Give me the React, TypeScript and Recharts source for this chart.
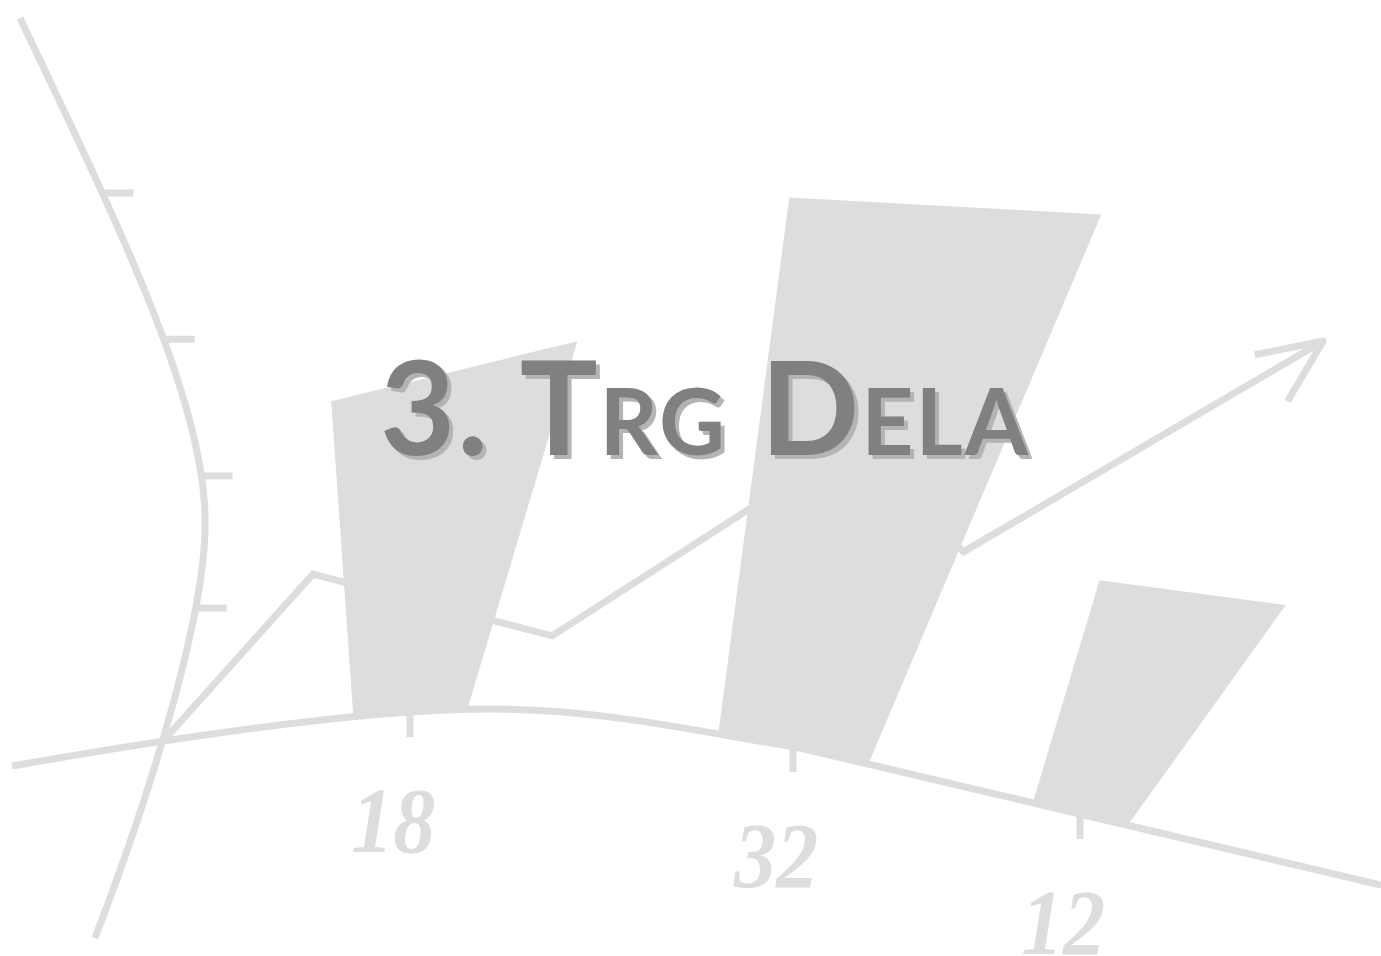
import React from 'react'
import { BarChart, LineChart, Bar, Line, XAxis, YAxis, LabelList } from 'recharts'

const W = 1381
const H = 956
// plot area: x 165..1381, y 42..739 (axes below take 1px each)
const MARGIN = { top: 42, right: 0, bottom: 216, left: 164 }
const AXIS_PX = 1
const PLOT_LEFT = MARGIN.left + AXIS_PX
const PLOT_W = W - PLOT_LEFT - MARGIN.right
const PLOT_BOTTOM = H - MARGIN.bottom - AXIS_PX

// bars
const categories = ['I', 'II', 'III']
const values = [18, 32, 12]
const valueTicks = [10, 20, 30, 40]

// trend arrow, in its own units (x 0..12, y 0..20)
const trendX = [0, 1.46, 3.82, 6.76, 7.88, 11.43]
const trendY = [0, 4.73, 2.96, 8.46, 5.37, 11.42]

const barData = categories.map((name, i) => ({ name, value: values[i] }))
const trendData = trendX.map((x, i) => ({ x, y: trendY[i] }))

const GREY = '#dddddd'
const STROKE = 7

type Pt = [number, number]
type Seg = [Pt, Pt, Pt]

// hand drawn axes
const BOTTOM_START: Pt = [12, 766]
const BOTTOM_SEGS: Seg[] = [
    [[200, 733], [380, 709], [490, 709]],
    [[600, 709], [690, 730], [800, 748]],
    [[994, 794], [1187, 839], [1381, 885]],
]
const LEFT_START: Pt = [20, 18]
const LEFT_SEGS: Seg[] = [
    [[115, 218], [205, 400], [205, 520]],
    [[207, 610], [152, 790], [95, 938]],
]

function cubic(a: Pt, b: Pt, c: Pt, d: Pt, t: number): Pt {
    const u = 1 - t
    const k0 = u * u * u, k1 = 3 * u * u * t, k2 = 3 * u * t * t, k3 = t * t * t
    return [
        k0 * a[0] + k1 * b[0] + k2 * c[0] + k3 * d[0],
        k0 * a[1] + k1 * b[1] + k2 * c[1] + k3 * d[1],
    ]
}

function curvePath(start: Pt, segs: Seg[]) {
    return `M${start}` + segs.map((s) => ` C${s[0]} ${s[1]} ${s[2]}`).join('')
}

function sampleCurve(start: Pt, segs: Seg[], steps = 64): Pt[] {
    const out: Pt[] = [start]
    let p0 = start
    for (const [c1, c2, p1] of segs) {
        for (let i = 1; i <= steps; i++) out.push(cubic(p0, c1, c2, p1, i / steps))
        p0 = p1
    }
    return out
}

function along(samples: Pt[], axis: 0 | 1, v: number) {
    const o = 1 - axis
    for (let i = 1; i < samples.length; i++) {
        const a = samples[i - 1], b = samples[i]
        if ((a[axis] - v) * (b[axis] - v) <= 0) {
            const f = b[axis] === a[axis] ? 0 : (v - a[axis]) / (b[axis] - a[axis])
            return a[o] + f * (b[o] - a[o])
        }
    }
    return v < samples[0][axis] ? samples[0][o] : samples[samples.length - 1][o]
}

const bottomSamples = sampleCurve(BOTTOM_START, BOTTOM_SEGS)
const leftSamples = sampleCurve(LEFT_START, LEFT_SEGS)
const bottomY = (x: number) => along(bottomSamples, 0, x)
const leftX = (y: number) => along(leftSamples, 1, y)

// horizontal lens: squeezes the categories towards the right
const LENS = { center: 793, gain: 335, bow: -48 }
function warpX(px: number) {
    const t = (px - (PLOT_LEFT + PLOT_W / 2)) / (PLOT_W / 3)
    return LENS.center + LENS.gain * t + LENS.bow * t * t
}

// the left axis is foreshortened, stretching near its top
function leftAxisY(py: number) {
    const d = PLOT_BOTTOM - py
    return PLOT_BOTTOM - (0.7511 * d + 9.51e-11 * d * d * d * d)
}

// per bar perspective
const PERSPECTIVE = [
    { foot: 1.14, spread: 2.16, lean: 0.129, tilt: -0.244, rise: 1.087 },
    { foot: 1.5, spread: 2.08, lean: 0.281, tilt: 0.0545, rise: 0.97 },
    { foot: 0.95, spread: 1.96, lean: 0.508, tilt: 0.134, rise: 1.059 },
]

function WarpedBar(props: any) {
    const { x, width, height, index } = props
    const p = PERSPECTIVE[index % PERSPECTIVE.length]
    const bx = warpX(x + width / 2)
    const half = (width / 2) * p.foot
    const xl = bx - half
    const xr = bx + half
    const hOut = height * p.rise
    const tx = bx + p.lean * hOut
    const ty = bottomY(bx) - hOut
    const top = half * p.spread
    const d =
        `M${xl},${bottomY(xl)} L${tx - top},${ty - p.tilt * top} ` +
        `L${tx + top},${ty + p.tilt * top} L${xr},${bottomY(xr)} Z`
    return <path d={d} fill={GREY} />
}

function ValueLabel(props: any) {
    const vb = props.viewBox || {}
    const x = props.x ?? vb.x
    const width = props.width ?? vb.width
    const bx = warpX(x + width / 2)
    const cy = bottomY(bx) + 109
    return (
        <text
            x={bx - 17}
            y={cy + 31}
            textAnchor="middle"
            fontFamily="'Liberation Serif', 'DejaVu Serif', serif"
            fontStyle="italic"
            fontWeight={700}
            fontSize={94}
            fill={GREY}
            textLength={84}
            lengthAdjust="spacingAndGlyphs"
        >
            {props.value}
        </text>
    )
}

function CategoryTick(props: any) {
    const px = props.payload?.coordinate ?? props.x
    const bx = warpX(px)
    const y0 = bottomY(bx)
    return <line x1={bx} y1={y0} x2={bx} y2={y0 + 25} stroke={GREY} strokeWidth={STROKE} />
}

function ValueTick(props: any) {
    const py = props.payload?.coordinate ?? props.y
    const yOut = leftAxisY(py)
    const x0 = leftX(yOut)
    return <line x1={x0} y1={yOut} x2={x0 + 31} y2={yOut} stroke={GREY} strokeWidth={STROKE} />
}

const ARROW_ARMS = [19, -29]
const ARROW_LEN = 70
const seen: Pt[] = []

function TrendDot(props: any) {
    const { cx, cy, index } = props
    seen[index] = [cx, cy]
    if (index !== trendData.length - 1) return <g key={`t${index}`} />
    const prev = props.points?.[index - 1]
    const [px, py] = prev ? [prev.x, prev.y] : seen[index - 1]
    const back = Math.atan2(py - cy, px - cx)
    const arms = ARROW_ARMS.map((a) => {
        const r = back + (a * Math.PI) / 180
        return [cx + ARROW_LEN * Math.cos(r), cy + ARROW_LEN * Math.sin(r)]
    })
    return (
        <path
            key={`t${index}`}
            d={`M${arms[0]} L${cx},${cy} L${arms[1]}`}
            fill="none"
            stroke={GREY}
            strokeWidth={STROKE}
            strokeLinejoin="round"
        />
    )
}

const layer: React.CSSProperties = { position: 'absolute', left: 0, top: 0 }

export default function App() {
    return (
        <div style={{ position: 'absolute', left: 0, top: 0, width: W, height: H, background: '#fff' }}>
            <div style={layer}>
                <LineChart width={W} height={H} data={trendData} margin={MARGIN}>
                    <XAxis dataKey="x" type="number" domain={[0, 12]} height={AXIS_PX} axisLine={false} tickLine={false} tick={false} />
                    <YAxis type="number" domain={[0, 20]} width={AXIS_PX} axisLine={false} tickLine={false} tick={false} />
                    <Line
                        dataKey="y"
                        type="linear"
                        stroke={GREY}
                        strokeWidth={STROKE}
                        dot={TrendDot}
                        activeDot={false}
                        isAnimationActive={false}
                    />
                </LineChart>
            </div>
            <div style={layer}>
                <BarChart width={W} height={H} data={barData} margin={MARGIN}>
                    <XAxis
                        dataKey="name"
                        height={AXIS_PX}
                        axisLine={false}
                        tickLine={false}
                        tick={CategoryTick}
                        interval={0}
                    />
                    <YAxis
                        domain={[0, 40]}
                        ticks={valueTicks}
                        width={AXIS_PX}
                        axisLine={false}
                        tickLine={false}
                        tick={ValueTick}
                    />
                    <Bar dataKey="value" barSize={100} shape={WarpedBar} isAnimationActive={false}>
                        <LabelList dataKey="value" content={ValueLabel} />
                    </Bar>
                </BarChart>
            </div>
            <svg width={W} height={H} style={layer}>
                <defs>
                    <filter id="titleShadow" x="-5%" y="-20%" width="110%" height="140%">
                        <feDropShadow dx={4} dy={4} stdDeviation={0.6} floodColor="#b4b4b4" floodOpacity={1} />
                    </filter>
                </defs>
                <path d={curvePath(LEFT_START, LEFT_SEGS)} fill="none" stroke={GREY} strokeWidth={STROKE} />
                <path d={curvePath(BOTTOM_START, BOTTOM_SEGS)} fill="none" stroke={GREY} strokeWidth={STROKE} />
                <text
                    x={380}
                    y={455}
                    fill="#808080"
                    fontFamily="Lato, 'Open Sans', sans-serif"
                    fontWeight={700}
                    fontSize={130}
                    textLength={648}
                    lengthAdjust="spacing"
                    filter="url(#titleShadow)"
                    style={{ fontVariant: 'small-caps' }}
                >
                    3. Trg Dela
                </text>
            </svg>
        </div>
    )
}
